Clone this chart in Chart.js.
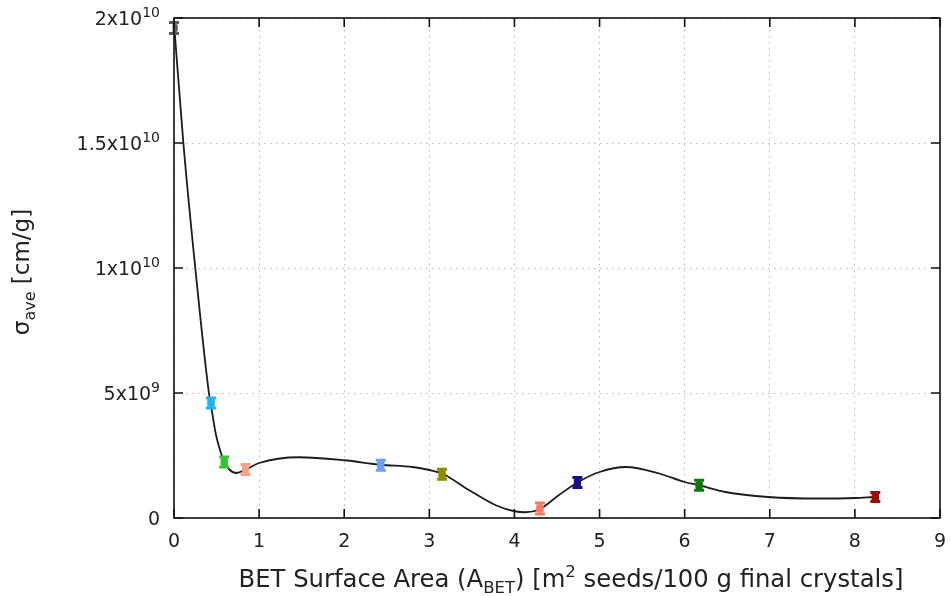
<!DOCTYPE html>
<html>
<head>
<meta charset="utf-8">
<script src="https://cdn.jsdelivr.net/npm/chart.js@4.4.0/dist/chart.umd.min.js"></script>
<style>
  html, body { margin: 0; padding: 0; background: #fff; }
  #wrap { width: 951px; height: 596px; position: relative; }
</style>
</head>
<body>
<div id="wrap"><canvas id="chart"></canvas></div>
<script>
// measured samples: seed BET area vs average specific cake resistance
const areaBET = [0.0, 0.435, 0.59, 0.84, 2.43, 3.15, 4.30, 4.74, 6.17, 8.24];
const sigmaAve = [19.6e9, 4.6e9, 2.24e9, 1.94e9, 2.11e9, 1.75e9, 0.38e9, 1.42e9, 1.31e9, 0.84e9];
const sigmaErr = [0.22e9, 0.2e9, 0.2e9, 0.2e9, 0.2e9, 0.2e9, 0.22e9, 0.2e9, 0.2e9, 0.18e9];
const pointColors = ['#5e5e5e', '#19b4f2', '#36c236', '#f5a286', '#6c9ff0', '#8c8c00',
                     '#fa7864', '#10108c', '#0b7a0b', '#9c0a0a'];

// smoothed trend line
const fitX = [0.0, 0.11, 0.25, 0.41, 0.45, 0.49, 0.53, 0.59, 0.65, 0.73, 0.85, 1.0, 1.47,
              2.0, 2.43, 2.8, 3.0, 3.15, 3.47, 3.78, 4.0, 4.13, 4.29, 4.52, 4.74, 5.0,
              5.31, 5.7, 6.0, 6.17, 6.48, 6.98, 7.57, 8.0, 8.22];
const fitY = [19.8e9, 15e9, 10e9, 5e9, 4.18e9, 3.38e9, 2.84e9, 2.25e9, 1.94e9, 1.8e9, 1.95e9,
              2.2e9, 2.43e9, 2.31e9, 2.13e9, 2.04e9, 1.92e9, 1.78e9, 1.11e9, 0.51e9, 0.27e9,
              0.23e9, 0.34e9, 0.91e9, 1.42e9, 1.84e9, 2.04e9, 1.78e9, 1.44e9, 1.31e9, 1.04e9,
              0.84e9, 0.78e9, 0.8e9, 0.84e9];

// tick labels (mantissa + exponent drawn as superscript)
const xTickLabels = ['0', '1', '2', '3', '4', '5', '6', '7', '8', '9'];
const yTickBase = ['0', '5x10', '1x10', '1.5x10', '2x10'];
const yTickExp = ['', '9', '10', '10', '10'];

const FONT = '"DejaVu Sans", Verdana, sans-serif';

// draw a run of text pieces with sub/superscripts
function richText(ctx, parts, x, y, align) {
  let total = 0;
  parts.forEach(p => {
    ctx.font = p.size + 'px ' + FONT;
    p.w = ctx.measureText(p.t).width;
    total += p.w;
  });
  let cx = align === 'right' ? x - total : align === 'center' ? x - total / 2 : x;
  ctx.textAlign = 'left';
  ctx.textBaseline = 'alphabetic';
  parts.forEach(p => {
    ctx.font = p.size + 'px ' + FONT;
    ctx.fillText(p.t, cx, y + (p.dy || 0));
    cx += p.w;
  });
}

const decorations = {
  id: 'decorations',
  afterDatasetsDraw(chart) {
    const ctx = chart.ctx;
    const xs = chart.scales.x, ys = chart.scales.y;
    ctx.save();
    areaBET.forEach((a, i) => {
      const px = xs.getPixelForValue(a);
      const top = ys.getPixelForValue(sigmaAve[i] + sigmaErr[i]);
      const bot = ys.getPixelForValue(sigmaAve[i] - sigmaErr[i]);
      ctx.strokeStyle = pointColors[i];
      ctx.lineWidth = 3;
      ctx.beginPath();
      ctx.moveTo(px, top); ctx.lineTo(px, bot);
      ctx.moveTo(px - 5, top); ctx.lineTo(px + 5, top);
      ctx.moveTo(px - 5, bot); ctx.lineTo(px + 5, bot);
      ctx.stroke();
    });
    ctx.restore();
  },
  afterDraw(chart) {
    const ctx = chart.ctx;
    const area = chart.chartArea;
    const xs = chart.scales.x, ys = chart.scales.y;
    ctx.save();
    // frame and inward tick marks
    ctx.strokeStyle = '#111';
    ctx.lineWidth = 1.6;
    ctx.strokeRect(area.left, area.top, area.right - area.left, area.bottom - area.top);
    ctx.beginPath();
    xs.ticks.forEach(t => {
      const px = xs.getPixelForValue(t.value);
      ctx.moveTo(px, area.bottom); ctx.lineTo(px, area.bottom - 9);
      ctx.moveTo(px, area.top); ctx.lineTo(px, area.top + 9);
    });
    ys.ticks.forEach(t => {
      const py = ys.getPixelForValue(t.value);
      ctx.moveTo(area.left, py); ctx.lineTo(area.left + 9, py);
      ctx.moveTo(area.right, py); ctx.lineTo(area.right - 9, py);
    });
    ctx.stroke();

    ctx.fillStyle = '#222';
    xs.ticks.forEach((t, i) => {
      const px = xs.getPixelForValue(t.value);
      richText(ctx, [{ t: xTickLabels[i], size: 19 }], px, area.bottom + 29, 'center');
    });
    ys.ticks.forEach((t, i) => {
      const py = ys.getPixelForValue(t.value);
      const parts = [{ t: yTickBase[i], size: 19 }];
      if (yTickExp[i]) parts.push({ t: yTickExp[i], size: 14, dy: -8 });
      richText(ctx, parts, area.left - 14, py + 7, 'right');
    });

    // axis titles
    richText(ctx, [
      { t: 'BET Surface Area (A', size: 24.3 },
      { t: 'BET', size: 16.5, dy: 6 },
      { t: ') [m', size: 24.3 },
      { t: '2', size: 16.5, dy: -10 },
      { t: ' seeds/100 g final crystals]', size: 24.3 }
    ], 571, 587, 'center');

    ctx.translate(29, 272);
    ctx.rotate(-Math.PI / 2);
    richText(ctx, [
      { t: 'σ', size: 23 },
      { t: 'ave', size: 16, dy: 6 },
      { t: ' [cm/g]', size: 23 }
    ], 0, 0, 'center');
    ctx.restore();
  }
};

new Chart(document.getElementById('chart'), {
  type: 'scatter',
  data: {
    datasets: [
      {
        data: areaBET.map((a, i) => ({ x: a, y: sigmaAve[i] })),
        pointStyle: 'rect',
        pointRadius: 4.5,
        pointBackgroundColor: pointColors,
        pointBorderColor: pointColors,
        pointBorderWidth: 1,
        showLine: false,
        order: 0
      },
      {
        data: fitX.map((x, i) => ({ x: x, y: fitY[i] })),
        showLine: true,
        pointRadius: 0,
        borderColor: '#1c1c1c',
        borderWidth: 1.8,
        cubicInterpolationMode: 'monotone',
        order: 1
      }
    ]
  },
  options: {
    responsive: true,
    maintainAspectRatio: false,
    animation: false,
    layout: { padding: { left: 174, right: 11, top: 18, bottom: 78 } },
    plugins: { legend: { display: false }, tooltip: { enabled: false } },
    scales: {
      x: {
        type: 'linear', min: 0, max: 9,
        ticks: { display: false, stepSize: 1 },
        grid: { color: '#bcbcbc', drawTicks: false },
        border: { display: false, dash: [1.5, 4.5] }
      },
      y: {
        type: 'linear', min: 0, max: 2e10,
        ticks: { display: false, stepSize: 5e9 },
        grid: { color: '#bcbcbc', drawTicks: false },
        border: { display: false, dash: [1.5, 4.5] }
      }
    }
  },
  plugins: [decorations]
});
</script>
</body>
</html>
